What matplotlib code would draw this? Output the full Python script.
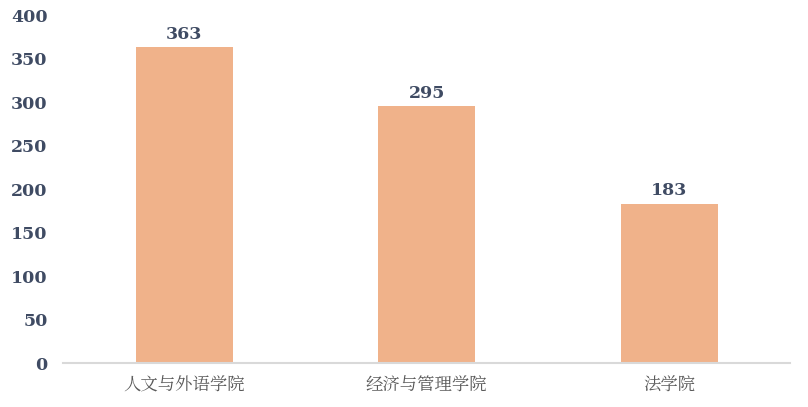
import matplotlib
matplotlib.use("Agg")
import matplotlib.pyplot as plt
import numpy as np

categories = ["人文与外语学院", "经济与管理学院", "法学院"]
values = [363, 295, 183]
yticks = [0, 50, 100, 150, 200, 250, 300, 350, 400]

bar_color = "#F0B28A"
num_color = "#3F4B63"

fig = plt.figure(figsize=(8.08, 4.07), dpi=100)
ax = fig.add_axes([0.078, 0.108, 0.900, 0.855])

x = np.arange(len(categories))
bars = ax.bar(x, values, width=0.4, color=bar_color, zorder=2)

for xi, v in zip(x, values):
    ax.text(xi, v + 5, str(v), ha="center", va="bottom",
            fontsize=12.5, fontweight="bold", family="DejaVu Serif", color=num_color)

ax.set_xlim(-0.5, len(categories) - 0.5)
ax.set_ylim(0, 400)
ax.set_yticks(yticks)
ax.set_yticklabels([str(t) for t in yticks], fontsize=12.5, fontweight="bold",
                   family="DejaVu Serif", color=num_color)
ax.set_xticks(x)
ax.set_xticklabels(categories, fontsize=12.5, family=["Noto Serif CJK SC", "Noto Sans CJK SC"],
                   color="#595959")

for side in ["top", "right", "left"]:
    ax.spines[side].set_visible(False)
ax.spines["bottom"].set_color("#D9D9D9")
ax.spines["bottom"].set_linewidth(1.5)
ax.tick_params(axis="both", length=0)
ax.tick_params(axis="y", pad=11)
ax.tick_params(axis="x", pad=10)

fig.savefig("out.png", dpi=100)
